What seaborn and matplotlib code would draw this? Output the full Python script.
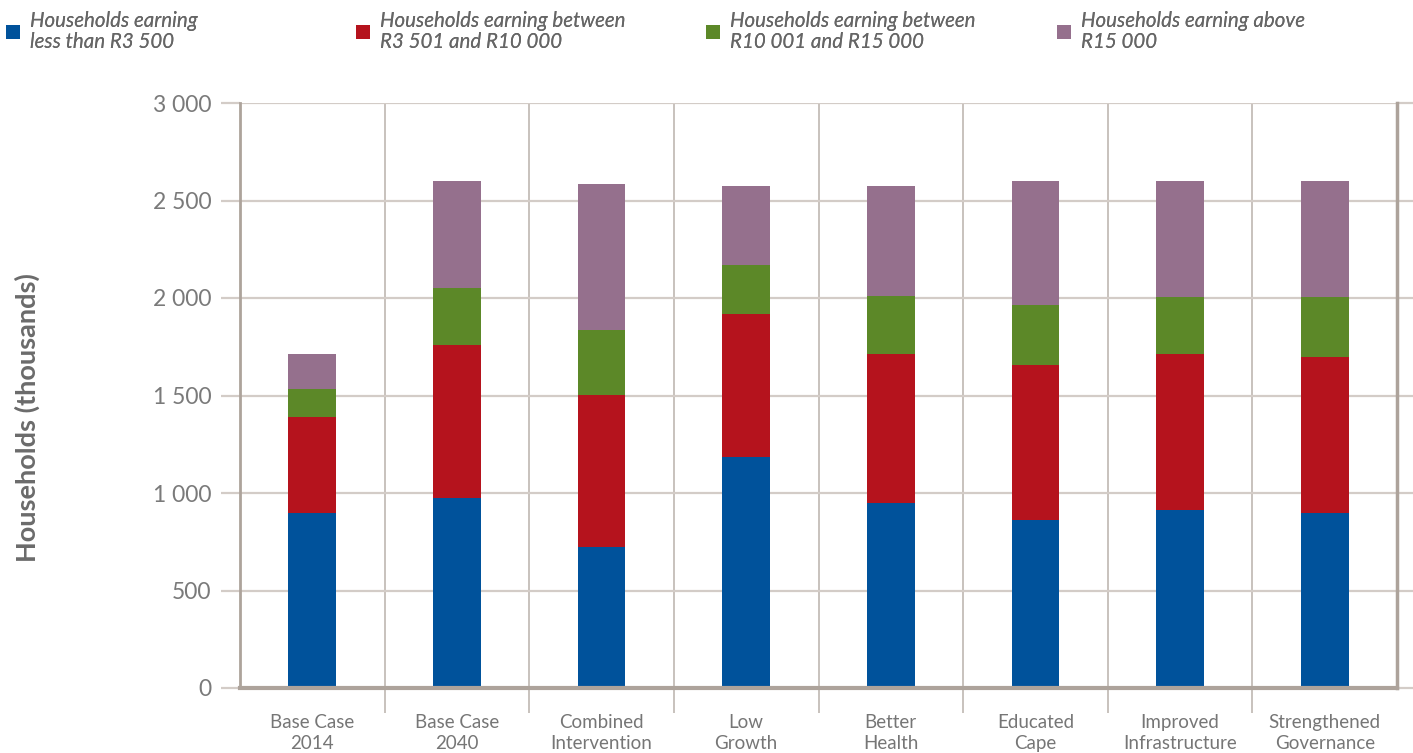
import matplotlib
matplotlib.use("Agg")
import matplotlib.pyplot as plt
from matplotlib.patches import Patch
from matplotlib.ticker import FuncFormatter, MultipleLocator, FixedLocator
import seaborn as sns
import pandas as pd
import numpy as np

categories = ["Base Case\n2014", "Base Case\n2040", "Combined\nIntervention", "Low\nGrowth",
              "Better\nHealth", "Educated\nCape", "Improved\nInfrastructure", "Strengthened\nGovernance"]
below_3500 = [897, 974, 723, 1185, 949, 862, 913, 897]
r3501_10000 = [493, 785, 780, 733, 764, 794, 800, 800]
r10001_15000 = [143, 292, 333, 251, 297, 308, 292, 308]
above_15000 = [180, 549, 749, 405, 564, 636, 595, 595]

series_labels = ["Households earning\nless than R3 500",
                 "Households earning between\nR3 501 and R10 000",
                 "Households earning between\nR10 001 and R15 000",
                 "Households earning above\nR15 000"]
colors = ["#00529B", "#B5131D", "#5C8828", "#95708D"]

sns.set_theme(style="white")
plt.rcParams['font.family'] = ['Lato', 'DejaVu Sans']

fig = plt.figure(figsize=(14.13, 7.53), dpi=100)
ax = fig.add_axes([240/1413, 1-688/753, (1397-240)/1413, (688-103)/753])

series = [below_3500, r3501_10000, r10001_15000, above_15000]
cum = np.cumsum(np.array(series), axis=0)
df = pd.DataFrame({"category": categories})
for i in range(3, -1, -1):
    df["v"] = cum[i]
    sns.barplot(data=df, x="category", y="v", color=colors[i], saturation=1,
                width=0.33, ax=ax, zorder=3, edgecolor="none", linewidth=0)

grid_c = "#D3CCC7"
spine_c = "#ADA39B"
ax.set_xlim(-0.5, len(categories) - 0.5)
ax.set_ylim(0, 3000)
ax.yaxis.set_major_locator(MultipleLocator(500))
ax.yaxis.set_major_formatter(FuncFormatter(lambda v, p: f"{int(v):,}".replace(",", " ")))
ax.grid(axis="y", color=grid_c, linewidth=1.6, zorder=0)
ax.set_axisbelow(True)

ax.xaxis.set_minor_locator(FixedLocator([i + 0.5 for i in range(len(categories) - 1)]))
ax.grid(axis="x", which="minor", color="#BFB7B1", linewidth=1.2, zorder=0)
ax.tick_params(axis="x", which="minor", length=18, width=1.2, color="#BFB7B1", bottom=True)
ax.tick_params(axis="x", which="major", length=0, pad=19, labelsize=13.5, labelcolor="#767676")
ax.tick_params(axis="y", which="major", length=14, width=1.6, color=grid_c, pad=6.5,
               labelsize=16.5, labelcolor="#7A7A7A", left=True, right=True)
for lab in ax.get_xticklabels():
    lab.set_linespacing(1.25)
    lab.set_verticalalignment("top")

ax.spines["top"].set_visible(False)
ax.spines["left"].set_color(spine_c)
ax.spines["left"].set_linewidth(2)
ax.spines["right"].set_color(spine_c)
ax.spines["right"].set_linewidth(2.5)
ax.spines["bottom"].set_color(spine_c)
ax.spines["bottom"].set_linewidth(3)
ax.spines["bottom"].set_zorder(5)

ax.set_xlabel("")
ax.set_ylabel("Households (thousands)", fontsize=19.5, fontweight="bold", color="#6B6B6B")
ax.yaxis.set_label_coords((40 - 240) / 1157, (688 - 418) / 585)

lx = [6, 356, 706, 1057]
for x, lab, c in zip(lx, series_labels, colors):
    leg = fig.legend(handles=[Patch(facecolor=c, edgecolor="none")], labels=[lab],
                     loc="upper left", bbox_to_anchor=(x/1413, 1 - 11/753), frameon=False,
                     handlelength=0.7, handleheight=0.7, handletextpad=0.45, borderpad=0,
                     borderaxespad=0, prop={"style": "italic", "size": 14.8}, labelcolor="#666666")
    for t in leg.get_texts():
        t.set_linespacing(1.05)
    fig.add_artist(leg)

fig.savefig("out.png", dpi=100)
